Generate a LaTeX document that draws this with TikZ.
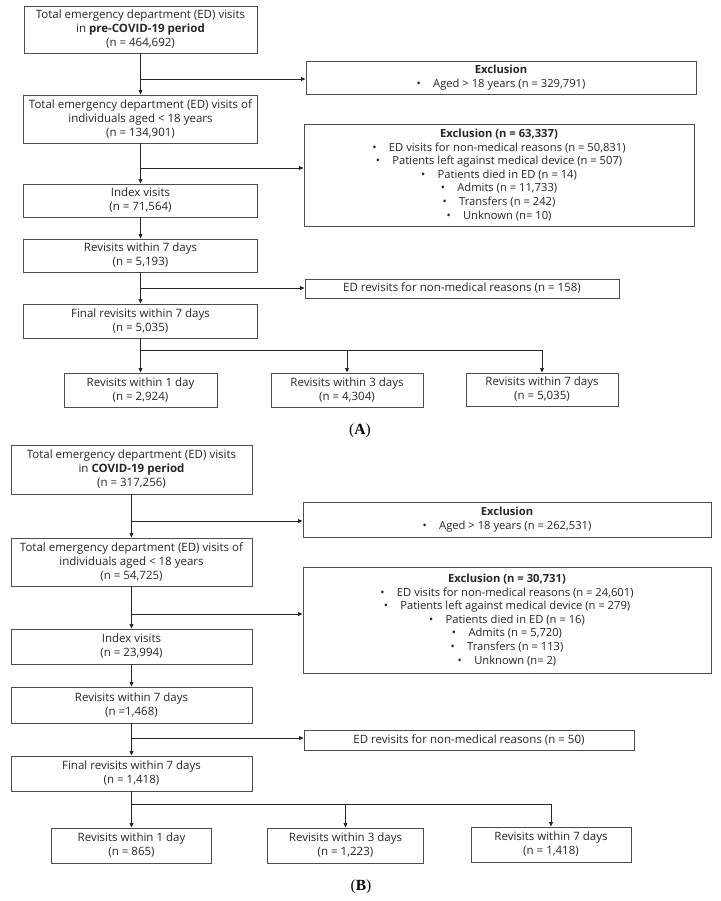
\documentclass[tikz,border=0pt]{standalone}
\usepackage{fontspec}
\setmainfont{Open Sans}
\newfontfamily\labfont{Liberation Serif}
\usetikzlibrary{arrows.meta}
\newcommand{\bul}{\textbullet\hspace{1.1em}}
\begin{document}
\begin{tikzpicture}[x=1pt,y=-1pt,
  box/.style={draw=black!70, line width=0.9pt, inner sep=0pt, align=center,
    font=\fontsize{11.5}{14}\selectfont, text=black!85},
  exbox/.style={box, font=\fontsize{11.2}{13.6}\selectfont},
  conn/.style={draw=black!85, line width=0.8pt},
  arr/.style={conn, -{Triangle[length=4.5pt,width=3.8pt]}},
  lab/.style={font=\labfont\fontsize{15.5}{17}\selectfont}]
\useasboundingbox (0,0) rectangle (720,901);
% ---------------- Panel A ----------------
\node[box, minimum width=233pt, minimum height=47pt] (a1) at (140.5,29.5)
  {Total emergency department (ED) visits\\ in \textbf{pre-COVID-19 period}\\ (n = 464,692)};
\node[exbox, minimum width=390pt, minimum height=33pt] (ea1) at (501,77.5)
  {\textbf{Exclusion}\\ \bul Aged > 18 years (n = 329,791)};
\node[box, minimum width=234pt, minimum height=48pt] (a2) at (140.5,119)
  {Total emergency department (ED) visits of\\ individuals aged < 18 years\\ (n = 134,901)};
\node[exbox, minimum width=390pt, minimum height=102pt] (ea2) at (499,175)
  {\textbf{Exclusion (n = 63,337)}\\
   \bul ED visits for non-medical reasons (n = 50,831)\\
   \bul Patients left against medical device (n = 507)\\
   \bul Patients died in ED (n = 14)\\
   \bul Admits (n = 11,733)\\
   \bul Transfers (n = 242)\\
   \bul Unknown (n= 10)};
\node[box, minimum width=234pt, minimum height=33pt] (a3) at (140.5,200.5)
  {Index visits\\ (n = 71,564)};
\node[box, minimum width=234pt, minimum height=33pt] (a4) at (140.5,255.5)
  {Revisits within 7 days\\ (n = 5,193)};
\node[box, minimum width=314pt, minimum height=19pt] (era) at (462,288.5)
  {ED revisits for non-medical reasons (n = 158)};
\node[box, minimum width=234pt, minimum height=34pt] (a5) at (140.5,321)
  {Final revisits within 7 days\\ (n = 5,035)};
\node[box, minimum width=153pt, minimum height=34pt] (a6) at (140.5,390)
  {Revisits within 1 day\\ (n = 2,924)};
\node[box, minimum width=152pt, minimum height=34pt] (a7) at (347,390)
  {Revisits within 3 days\\ (n = 4,304)};
\node[box, minimum width=152pt, minimum height=33pt] (a8) at (542,389.5)
  {Revisits within 7 days\\ (n = 5,035)};
\node[lab] (la) at (360,431) {(\textbf{A})};

\coordinate (ja1) at (140.5,79);
\coordinate (ja2) at (140.5,168);
\coordinate (ja3) at (140.5,288);
\coordinate (ja4) at (140.5,350);
\draw[arr] (a1.south) -- (a2.north);
\draw[arr] (ja1) -- (ja1 -| ea1.west);
\draw[arr] (a2.south) -- (a3.north);
\draw[arr] (ja2) -- (ja2 -| ea2.west);
\draw[arr] (a3.south) -- (a4.north);
\draw[arr] (a4.south) -- (a5.north);
\draw[arr] (ja3) -- (ja3 -| era.west);
\draw[conn] (a5.south) -- (ja4) -- (ja4 -| a8.north);
\draw[arr] (ja4) -- (a6.north);
\draw[arr] (ja4 -| a7.north) -- (a7.north);
\draw[arr] (ja4 -| a8.north) -- (a8.north);

% ---------------- Panel B ----------------
\node[box, minimum width=241pt, minimum height=49pt] (b1) at (131.5,469.5)
  {Total emergency department (ED) visits\\ in \textbf{COVID-19 period}\\ (n = 317,256)};
\node[exbox, minimum width=408pt, minimum height=35pt] (eb1) at (507,519.5)
  {\textbf{Exclusion}\\ \bul Aged > 18 years (n = 262,531)};
\node[box, minimum width=241pt, minimum height=48pt] (b2) at (131.5,562)
  {Total emergency department (ED) visits of\\ individuals aged < 18 years\\ (n = 54,725)};
\node[exbox, minimum width=408pt, minimum height=106pt] (eb2) at (507,620)
  {\textbf{Exclusion (n = 30,731)}\\
   \bul ED visits for non-medical reasons (n = 24,601)\\
   \bul Patients left against medical device (n = 279)\\
   \bul Patients died in ED (n = 16)\\
   \bul Admits (n = 5,720)\\
   \bul Transfers (n = 113)\\
   \bul Unknown (n= 2)};
\node[box, minimum width=241pt, minimum height=35pt] (b3) at (131.5,646.5)
  {Index visits\\ (n = 23,994)};
\node[box, minimum width=241pt, minimum height=36pt] (b4) at (131.5,705)
  {Revisits within 7 days\\ (n =1,468)};
\node[box, minimum width=330pt, minimum height=20pt] (erb) at (469,740)
  {ED revisits for non-medical reasons (n = 50)};
\node[box, minimum width=241pt, minimum height=35pt] (b5) at (131.5,773.5)
  {Final revisits within 7 days\\ (n = 1,418)};
\node[box, minimum width=160pt, minimum height=35pt] (b6) at (131.5,845.5)
  {Revisits within 1 day\\ (n = 865)};
\node[box, minimum width=156pt, minimum height=35pt] (b7) at (345.5,845.5)
  {Revisits within 3 days\\ (n = 1,223)};
\node[box, minimum width=160pt, minimum height=35pt] (b8) at (551,844.5)
  {Revisits within 7 days\\ (n = 1,418)};
\node[lab] (lb) at (361,887) {(\textbf{B})};

\coordinate (jb1) at (131.5,521);
\coordinate (jb2) at (131.5,614);
\coordinate (jb3) at (131.5,738);
\coordinate (jb4) at (131.5,804);
\draw[arr] (b1.south) -- (b2.north);
\draw[arr] (jb1) -- (jb1 -| eb1.west);
\draw[arr] (b2.south) -- (b3.north);
\draw[arr] (jb2) -- (jb2 -| eb2.west);
\draw[arr] (b3.south) -- (b4.north);
\draw[arr] (b4.south) -- (b5.north);
\draw[arr] (jb3) -- (jb3 -| erb.west);
\draw[conn] (b5.south) -- (jb4) -- (jb4 -| b8.north);
\draw[arr] (jb4) -- (b6.north);
\draw[arr] (jb4 -| b7.north) -- (b7.north);
\draw[arr] (jb4 -| b8.north) -- (b8.north);
\end{tikzpicture}
\end{document}
